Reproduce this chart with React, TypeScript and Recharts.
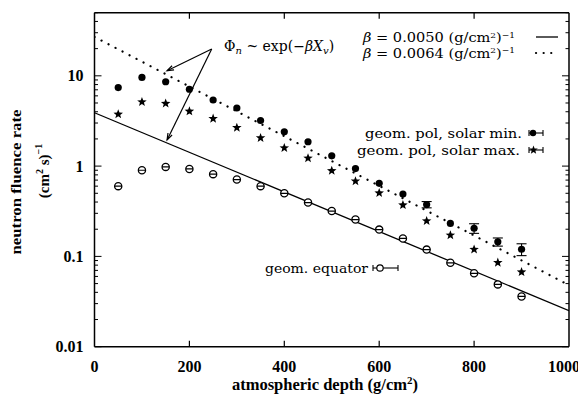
import React from 'react';
import { ComposedChart, XAxis, YAxis, Line, Scatter, ErrorBar, ReferenceLine } from 'recharts';

// ---------- data ----------
const depth = [50, 100, 150, 200, 250, 300, 350, 400, 450, 500, 550, 600, 650, 700, 750, 800, 850, 900];
const solarMin = [7.4, 9.6, 8.6, 7.1, 5.4, 4.4, 3.2, 2.4, 1.86, 1.3, 0.94, 0.645, 0.49, 0.375, 0.232, 0.205, 0.145, 0.12];
const solarMinErr = [0, 0, 0, 0, 0, 0, 0, 0, 0, 0, 0, 0, 0, 0.03, 0, 0.025, 0.015, 0.018];
const solarMax = [3.8, 5.2, 5.0, 4.1, 3.4, 2.7, 2.08, 1.61, 1.24, 0.9, 0.69, 0.51, 0.375, 0.25, 0.174, 0.121, 0.0865, 0.068];
const equator = [0.6, 0.9, 0.98, 0.93, 0.815, 0.71, 0.6, 0.5, 0.395, 0.318, 0.256, 0.198, 0.158, 0.119, 0.085, 0.065, 0.049, 0.036];

// fitted exponential lines (straight in log scale): end points
const fitSolidX = [0, 1000];
const fitSolidY = [3.9, 0.025];
const fitDotX = [0, 1000];
const fitDotY = [27, 0.048];

// annotation arrows: tail and heads (data coordinates)
const arrowTail = { x: 247, y: 19.8 };
const arrowHeads = [
  { x: 153, y: 11.4 },
  { x: 153, y: 1.95 },
];

const xTicks = [0, 200, 400, 600, 800, 1000];
const xTickLabels = ['0', '200', '400', '600', '800', '1000'];
const yMajor = [0.01, 0.1, 1, 10];
const yTickLabels = ['0.01', '0.1', '1', '10'];
const minorMult = [2, 3, 4, 5, 6, 7, 8, 9];
const xDomain = [0, 1000];
const yDomain = [0.01, 50];

const yTicks: number[] = [];
yMajor.forEach((m) => {
  yTicks.push(m);
  minorMult.forEach((k) => {
    const v = m * k;
    if (v <= yDomain[1]) yTicks.push(v);
  });
});

const toPts = (xs: number[], ys: number[], errs?: number[]) =>
  xs.map((x, i) => ({ x, y: ys[i], err: errs ? errs[i] : 0 }));

const minData = toPts(depth, solarMin, solarMinErr);
const maxData = toPts(depth, solarMax);
const eqData = toPts(depth, equator);
const solidData = toPts(fitSolidX, fitSolidY);
const dotData = toPts(fitDotX, fitDotY);

// ---------- layout ----------
const W = 578;
const H = 389;
const MARGIN = { top: 3.7, right: 16, bottom: 49.3, left: 85.5 };
const TICK_FONT = '"Liberation Serif", serif';
const TEXT_FONT = '"DejaVu Serif", serif';

// ---------- shapes ----------
const FilledDot = (p: any) => <circle cx={p.cx} cy={p.cy} r={3.6} fill="#000" />;

const starPath = (cx: number, cy: number, ro: number, ri: number) => {
  let d = '';
  for (let i = 0; i < 10; i++) {
    const r = i % 2 === 0 ? ro : ri;
    const a = -Math.PI / 2 + (i * Math.PI) / 5;
    d += (i === 0 ? 'M' : 'L') + (cx + r * Math.cos(a)).toFixed(2) + ',' + (cy + r * Math.sin(a)).toFixed(2);
  }
  return d + 'Z';
};
const Star = (p: any) => <path d={starPath(p.cx, p.cy + 0.5, 5, 2.1)} fill="#000" />;

const Theta = (p: any) => (
  <g>
    <circle cx={p.cx} cy={p.cy} r={3.6} fill="#fff" stroke="#000" strokeWidth={1.3} />
    <line x1={p.cx - 3.6} x2={p.cx + 3.6} y1={p.cy} y2={p.cy} stroke="#000" strokeWidth={1.2} />
  </g>
);

const ArrowShape = (p: any) => {
  const { x1, y1, x2, y2 } = p;
  const ang = Math.atan2(y2 - y1, x2 - x1);
  const L = 7;
  const s = 0.33;
  const a1 = ang + Math.PI - s;
  const a2 = ang + Math.PI + s;
  return (
    <g>
      <line x1={x1} y1={y1} x2={x2} y2={y2} stroke="#000" strokeWidth={1.2} />
      <polyline
        points={`${x2 + L * Math.cos(a1)},${y2 + L * Math.sin(a1)} ${x2},${y2} ${x2 + L * Math.cos(a2)},${y2 + L * Math.sin(a2)}`}
        fill="none"
        stroke="#000"
        strokeWidth={1.2}
      />
    </g>
  );
};

// ---------- ticks ----------
const BottomTick = (p: any) => {
  const i = xTicks.indexOf(p.payload.value);
  const inner = i > 0 && i < xTicks.length - 1;
  const last = i === xTicks.length - 1;
  return (
    <g>
      {inner && <line x1={p.x} x2={p.x} y1={p.y} y2={p.y - 6} stroke="#000" strokeWidth={1.2} />}
      <text
        x={last ? p.x + 11 : p.x}
        y={p.y + 25}
        textAnchor={last ? 'end' : 'middle'}
        fontFamily={TICK_FONT}
        fontWeight="bold"
        fontSize={16}
        fill="#000"
      >
        {xTickLabels[i]}
      </text>
    </g>
  );
};
const TopTick = (p: any) => {
  const i = xTicks.indexOf(p.payload.value);
  const inner = i > 0 && i < xTicks.length - 1;
  return <g>{inner && <line x1={p.x} x2={p.x} y1={p.y} y2={p.y + 6} stroke="#000" strokeWidth={1.2} />}</g>;
};
const LeftTick = (p: any) => {
  const i = yMajor.indexOf(p.payload.value);
  const major = i >= 0;
  return (
    <g>
      <line x1={p.x} x2={p.x + (major ? 7 : 3.5)} y1={p.y} y2={p.y} stroke="#000" strokeWidth={1} />
      {major && (
        <text x={p.x - 11} y={p.y + 5.5} textAnchor="end" fontFamily={TICK_FONT} fontWeight="bold" fontSize={16} fill="#000">
          {yTickLabels[i]}
        </text>
      )}
    </g>
  );
};
const RightTick = (p: any) => {
  const major = yMajor.indexOf(p.payload.value) >= 0;
  return <line x1={p.x} x2={p.x - (major ? 7 : 3.5)} y1={p.y} y2={p.y} stroke="#000" strokeWidth={1} />;
};

// ---------- overlay (legend / labels) ----------
const Overlay = () => (
  <svg width={W} height={H} style={{ position: 'absolute', left: 0, top: 0, pointerEvents: 'none' }}>
    {/* y label */}
    <text
      transform="translate(13,174) rotate(-90)"
      textAnchor="middle"
      fontFamily={TICK_FONT}
      fontWeight="bold"
      fontSize={15}
      textLength={145}
      lengthAdjust="spacingAndGlyphs"
      fill="#000"
    >
      neutron fluence rate
    </text>
    <text transform="translate(41,163) rotate(-90)" textAnchor="middle" fontFamily={TICK_FONT} fontWeight="bold" fontSize={15} fill="#000">
      (cm<tspan fontSize={10} dy={-6}>2</tspan>
      <tspan dy={6}> s)</tspan>
      <tspan fontSize={10} dy={-7}>−1</tspan>
    </text>
    {/* x label */}
    <text x={317} y={382} textAnchor="middle" fontFamily={TICK_FONT} fontWeight="bold" fontSize={16.5} fill="#000">
      atmospheric depth  (g/cm<tspan fontSize={11} dy={-6}>2</tspan>
      <tspan dy={6}>)</tspan>
    </text>

    {/* formula */}
    <text x={216} y={43} fontFamily={TEXT_FONT} fontSize={14} fill="#000">
      Φ<tspan fontSize={10} dy={3} fontStyle="italic">n</tspan>
      <tspan dy={-3}> ~ exp(−</tspan>
      <tspan fontStyle="italic">βX</tspan>
      <tspan fontSize={10} dy={3} fontStyle="italic">v</tspan>
      <tspan dy={-3}>)</tspan>
    </text>
    <text x={355} y={34} fontFamily={TEXT_FONT} fontSize={13} textLength={152} lengthAdjust="spacingAndGlyphs" fill="#000">
      <tspan fontStyle="italic">β</tspan> = 0.0050 (g/cm<tspan fontSize={8} dy={-4.5}>2</tspan>
      <tspan dy={4.5}>)</tspan>
      <tspan fontSize={8} dy={-4.5}>−1</tspan>
    </text>
    <line x1={528} x2={550} y1={29} y2={29} stroke="#000" strokeWidth={1.3} />
    <text x={355} y={49.5} fontFamily={TEXT_FONT} fontSize={13} textLength={152} lengthAdjust="spacingAndGlyphs" fill="#000">
      <tspan fontStyle="italic">β</tspan> = 0.0064 (g/cm<tspan fontSize={8} dy={-4.5}>2</tspan>
      <tspan dy={4.5}>)</tspan>
      <tspan fontSize={8} dy={-4.5}>−1</tspan>
    </text>
    <line x1={528} x2={550} y1={45} y2={45} stroke="#000" strokeWidth={2.2} strokeDasharray="0.1 7.5" strokeLinecap="round" />

    {/* series legend */}
    <text x={357} y={129.5} fontFamily={TEXT_FONT} fontSize={13} textLength={157} lengthAdjust="spacingAndGlyphs" fill="#000">
      geom. pol, solar min.
    </text>
    <g stroke="#000" strokeWidth={1.1}>
      <line x1={521} x2={535} y1={125} y2={125} />
      <line x1={521} x2={521} y1={122} y2={128} />
      <line x1={535} x2={535} y1={122} y2={128} />
    </g>
    <circle cx={525} cy={125} r={3.2} fill="#000" />
    <text x={349} y={146.5} fontFamily={TEXT_FONT} fontSize={13} textLength={163} lengthAdjust="spacingAndGlyphs" fill="#000">
      geom. pol, solar max.
    </text>
    <g stroke="#000" strokeWidth={1.1}>
      <line x1={521} x2={535} y1={142} y2={142} />
      <line x1={521} x2={521} y1={139} y2={145} />
      <line x1={535} x2={535} y1={139} y2={145} />
    </g>
    <path d={starPath(525.5, 142, 4.5, 1.9)} fill="#000" />
    <text x={257} y={264.5} fontFamily={TEXT_FONT} fontSize={13} textLength={103} lengthAdjust="spacingAndGlyphs" fill="#000">
      geom. equator
    </text>
    <g stroke="#000" strokeWidth={1.1}>
      <line x1={365} x2={390} y1={260} y2={260} />
      <line x1={365} x2={365} y1={257} y2={263} />
      <line x1={390} x2={390} y1={257} y2={263} />
    </g>
    <circle cx={372} cy={260} r={3.2} fill="#fff" stroke="#000" strokeWidth={1.2} />
  </svg>
);

export default function App() {
  return (
    <div style={{ position: 'relative', width: W, height: H, background: '#fff' }}>
      <ComposedChart width={W} height={H} margin={MARGIN}>
        <XAxis
          xAxisId="b"
          dataKey="x"
          type="number"
          domain={xDomain}
          ticks={xTicks}
          interval={0}
          height={1}
          tickSize={0}
          tickMargin={0}
          tickLine={false}
          axisLine={{ stroke: '#000', strokeWidth: 1.5 }}
          tick={BottomTick}
          allowDataOverflow
        />
        <XAxis
          xAxisId="t"
          orientation="top"
          dataKey="x"
          type="number"
          domain={xDomain}
          ticks={xTicks}
          interval={0}
          height={1}
          tickSize={0}
          tickMargin={0}
          tickLine={false}
          axisLine={{ stroke: '#000', strokeWidth: 1.5 }}
          tick={TopTick}
          allowDataOverflow
        />
        <YAxis
          yAxisId="l"
          dataKey="y"
          type="number"
          scale="log"
          domain={yDomain}
          ticks={yTicks}
          interval={0}
          width={1}
          tickSize={0}
          tickMargin={0}
          tickLine={false}
          axisLine={{ stroke: '#000', strokeWidth: 1.5 }}
          tick={LeftTick}
          allowDataOverflow
        />
        <YAxis
          yAxisId="r"
          orientation="right"
          dataKey="y"
          type="number"
          scale="log"
          domain={yDomain}
          ticks={yTicks}
          interval={0}
          width={1}
          tickSize={0}
          tickMargin={0}
          tickLine={false}
          axisLine={{ stroke: '#000', strokeWidth: 1.5 }}
          tick={RightTick}
          allowDataOverflow
        />
        <Line
          xAxisId="b"
          yAxisId="l"
          data={solidData}
          dataKey="y"
          stroke="#000"
          strokeWidth={1.3}
          dot={false}
          isAnimationActive={false}
          type="linear"
        />
        <Line
          xAxisId="b"
          yAxisId="l"
          data={dotData}
          dataKey="y"
          stroke="#000"
          strokeWidth={2.2}
          strokeDasharray="0.1 7.8"
          strokeLinecap="round"
          dot={false}
          isAnimationActive={false}
          type="linear"
        />
        {arrowHeads.map((h, i) => (
          <ReferenceLine
            key={i}
            xAxisId="b"
            yAxisId="l"
            segment={[arrowTail, h]}
            shape={ArrowShape}
            ifOverflow="visible"
          />
        ))}
        <Scatter xAxisId="b" yAxisId="l" data={eqData} dataKey="y" shape={Theta} isAnimationActive={false} />
        <Scatter xAxisId="b" yAxisId="l" data={maxData} dataKey="y" shape={Star} isAnimationActive={false} />
        <Scatter xAxisId="b" yAxisId="l" data={minData} dataKey="y" shape={FilledDot} isAnimationActive={false}>
          <ErrorBar dataKey="err" direction="y" width={5} stroke="#000" strokeWidth={1.1} />
        </Scatter>
      </ComposedChart>
      <Overlay />
    </div>
  );
}
